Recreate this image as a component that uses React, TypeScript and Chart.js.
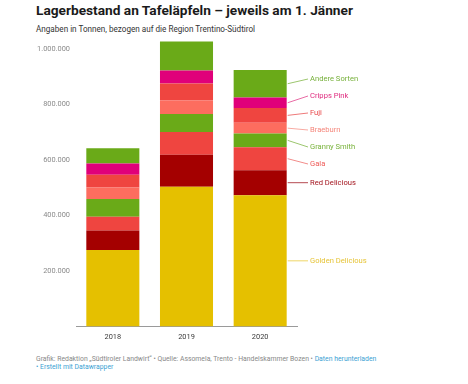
import React, { useEffect, useRef } from "react";
import { Chart, registerables } from "chart.js";

Chart.register(...registerables);

const years = ["2018", "2019", "2020"];
const varieties = [
  "Golden Delicious",
  "Red Delicious",
  "Gala",
  "Granny Smith",
  "Braeburn",
  "Fuji",
  "Cripps Pink",
  "Andere Sorten",
];
const goldenDelicious = [276000, 503000, 473000];
const redDelicious = [70000, 116000, 90000];
const gala = [49000, 82000, 83000];
const grannySmith = [64000, 64000, 49000];
const braeburn = [42000, 49000, 39000];
const fuji = [46000, 61000, 53000];
const crippsPink = [40000, 47000, 38000];
const andereSorten = [55000, 105000, 99000];
const yTickValues = [200000, 400000, 600000, 800000, 1000000];

const seriesValues = [
  goldenDelicious,
  redDelicious,
  gala,
  grannySmith,
  braeburn,
  fuji,
  crippsPink,
  andereSorten,
];
const barColors = [
  "#e5c000",
  "#a40000",
  "#ef4540",
  "#6aaa18",
  "#fd6d5f",
  "#ef4540",
  "#e0007a",
  "#6aaa18",
];
const labelColors = [
  "#e6c437",
  "#a3141e",
  "#ee5a57",
  "#78b23a",
  "#f5877c",
  "#e8484a",
  "#df2a7e",
  "#76b03a",
];
const lineColors = [
  "#efd666",
  "#b54a52",
  "#f28c8a",
  "#9cc66e",
  "#f8aaa2",
  "#ee7a7a",
  "#e86aa4",
  "#9cc66e",
];

const fmt = (v: number) =>
  String(Math.round(v)).replace(/\B(?=(\d{3})+(?!\d))/g, ".");

const rightLabels = {
  id: "rightLabels",
  afterDatasetsDraw(chart: any) {
    const ctx = chart.ctx;
    const gap = 17;
    const items = chart.data.datasets.map((ds: any, i: number) => {
      const meta = chart.getDatasetMeta(i);
      const el = meta.data[meta.data.length - 1];
      const p = el.getProps(["x", "y", "base", "width"], true);
      return {
        i,
        want: (p.y + p.base) / 2,
        right: p.x + p.width / 2,
        label: ds.label,
        pos: 0,
      };
    });
    const sorted = items.slice().sort((a: any, b: any) => a.want - b.want);
    let clusters = sorted.map((it: any) => ({ items: [it], sum: it.want }));
    let changed = true;
    while (changed) {
      changed = false;
      for (let k = 0; k < clusters.length - 1; k++) {
        const a = clusters[k];
        const b = clusters[k + 1];
        const aTop = a.sum / a.items.length - ((a.items.length - 1) * gap) / 2;
        const aBottom = aTop + (a.items.length - 1) * gap;
        const bTop = b.sum / b.items.length - ((b.items.length - 1) * gap) / 2;
        if (bTop - aBottom < gap) {
          clusters.splice(k, 2, {
            items: a.items.concat(b.items),
            sum: a.sum + b.sum,
          });
          changed = true;
          break;
        }
      }
    }
    clusters.forEach((c: any) => {
      const top = c.sum / c.items.length - ((c.items.length - 1) * gap) / 2;
      c.items.forEach((it: any, j: number) => {
        it.pos = top + j * gap;
      });
    });
    const textX = 310;
    ctx.save();
    ctx.font = "7.6px Roboto";
    ctx.textBaseline = "middle";
    ctx.textAlign = "left";
    items.forEach((it: any) => {
      ctx.strokeStyle = lineColors[it.i];
      ctx.lineWidth = 1;
      ctx.beginPath();
      ctx.moveTo(it.right + 1, it.want);
      ctx.lineTo(textX - 2, it.pos);
      ctx.stroke();
      ctx.fillStyle = labelColors[it.i];
      ctx.fillText(it.label, textX, it.pos);
    });
    ctx.restore();
  },
};

export default function App() {
  const ref = useRef<HTMLCanvasElement | null>(null);

  useEffect(() => {
    if (!ref.current) return;
    Chart.defaults.font.family = "Roboto";
    const chart = new Chart(ref.current, {
      type: "bar",
      data: {
        labels: years,
        datasets: varieties.map((name, i) => ({
          label: name,
          data: seriesValues[i],
          backgroundColor: barColors[i],
          borderWidth: 0,
          barPercentage: 0.72,
          categoryPercentage: 1,
        })),
      },
      options: {
        responsive: false,
        animation: false,
        layout: { padding: { left: 0, top: 35, right: 171, bottom: 0 } },
        plugins: {
          legend: { display: false },
          tooltip: { enabled: false },
        },
        scales: {
          x: {
            stacked: true,
            grid: { display: false, drawTicks: false },
            border: { display: true, color: "#9a9a9a", width: 1 },
            ticks: {
              color: "#3a3a3a",
              font: { size: 7.4, family: "Roboto" },
              padding: 6,
            },
            afterFit: (s: any) => {
              s.height = 18.5;
            },
          },
          y: {
            stacked: true,
            min: 0,
            max: 1050000,
            grid: { display: false, drawTicks: false },
            border: { display: false },
            afterBuildTicks: (s: any) => {
              s.ticks = yTickValues.map((v) => ({ value: v }));
            },
            ticks: {
              autoSkip: false,
              color: "#8a8a8a",
              font: { size: 7.4, family: "Roboto" },
              padding: 6,
              callback: (v: any) => fmt(Number(v)),
            },
            afterFit: (s: any) => {
              s.width = 76;
            },
          },
        },
      },
      plugins: [rightLabels],
    });
    return () => chart.destroy();
  }, []);

  const font = "Roboto, sans-serif";
  return (
    <div
      style={{
        position: "absolute",
        left: 0,
        top: 0,
        width: 468,
        height: 384,
        background: "#fff",
        fontFamily: font,
      }}
    >
      <div
        style={{
          position: "absolute",
          left: 36,
          top: 3.5,
          fontSize: 13.7,
          lineHeight: 1,
          fontWeight: 700,
          color: "#1a1a1a",
          whiteSpace: "nowrap",
        }}
      >
        Lagerbestand an Tafeläpfeln – jeweils am 1. Jänner
      </div>
      <div
        style={{
          position: "absolute",
          left: 36,
          top: 25.4,
          fontSize: 8.15,
          lineHeight: 1,
          color: "#333",
          whiteSpace: "nowrap",
        }}
      >
        Angaben in Tonnen, bezogen auf die Region Trentino-Südtirol
      </div>
      <canvas
        ref={ref}
        width={468}
        height={345}
        style={{ position: "absolute", left: 0, top: 0, display: "block" }}
      />
      <div
        style={{
          position: "absolute",
          left: 36,
          top: 354.6,
          fontSize: 6.85,
          lineHeight: "8.4px",
          color: "#888",
          whiteSpace: "nowrap",
        }}
      >
        Grafik: Redaktion „Südtiroler Landwirt“ • Quelle: Assomela, Trento -
        Handelskammer Bozen •{" "}
        <span style={{ color: "#3d9fd3" }}>Daten herunterladen</span>
        <br />
        <span style={{ color: "#3d9fd3" }}>• Erstellt mit Datawrapper</span>
      </div>
    </div>
  );
}
